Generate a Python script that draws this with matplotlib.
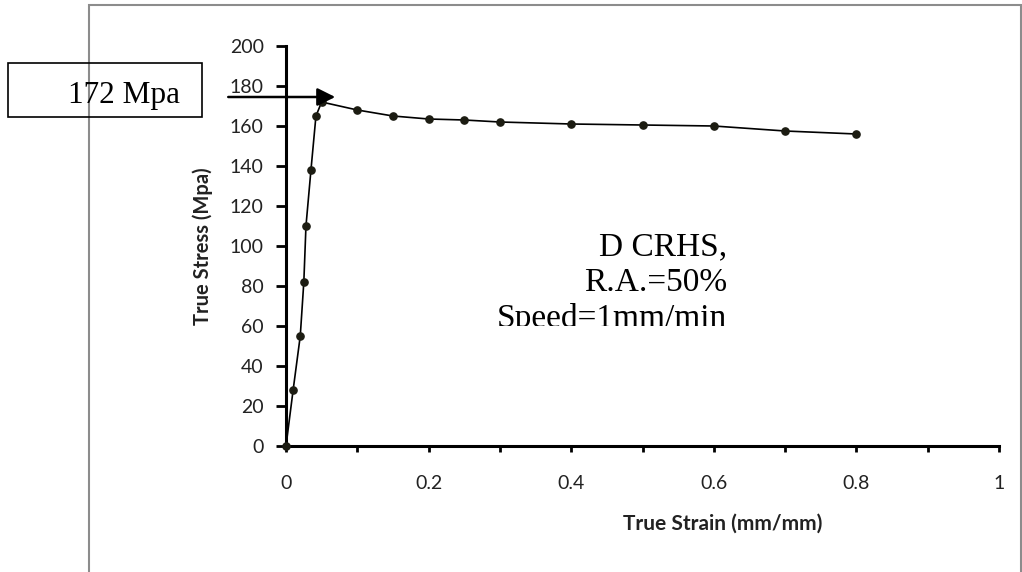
"""
True stress - true strain curve, D CRHS
"""
import numpy as np
import matplotlib
matplotlib.use("Agg")
import matplotlib.pyplot as plt
from matplotlib.patches import Rectangle
from matplotlib.transforms import Bbox, TransformedBbox

# data
strain = [0, 0.01, 0.02, 0.025, 0.028, 0.035, 0.042, 0.05, 0.1, 0.15, 0.2,
          0.25, 0.3, 0.4, 0.5, 0.6, 0.7, 0.8]
stress = [0, 28, 55, 82, 110, 138, 165, 172, 168, 165, 163.5,
          163, 162, 161, 160.5, 160, 157.5, 156]
x_ticks = [0, 0.1, 0.2, 0.3, 0.4, 0.5, 0.6, 0.7, 0.8, 0.9, 1.0]
x_labels = ["0", "", "0.2", "", "0.4", "", "0.6", "", "0.8", "", "1"]
y_ticks = [0, 20, 40, 60, 80, 100, 120, 140, 160, 180, 200]
peak_label = "172 Mpa"
peak_level = 174.5
note_lines = ["D CRHS,", "R.A.=50%", "Speed=1mm/min"]

W, H = 1022, 572
fig = plt.figure(figsize=(W / 100, H / 100), dpi=100)

def fx(px):
    return px / W

def fy(py):
    return 1 - py / H

# outer gray chart frame
fig.add_artist(Rectangle((fx(89), fy(620)), fx(1021) - fx(89), fy(5) - fy(620),
                         transform=fig.transFigure, fill=False,
                         edgecolor="#8c8c8c", lw=1.5))

ax = fig.add_axes([fx(286), fy(446), fx(999) - fx(286), fy(46) - fy(446)])
ax.plot(strain, stress, color="black", lw=1.2, marker="o", markersize=5.2,
        markerfacecolor="#1c1c12", markeredgecolor="#1c1c12", clip_on=False,
        zorder=3)

ax.set_xlim(0, 1)
ax.set_ylim(0, 200)
ax.spines["top"].set_visible(False)
ax.spines["right"].set_visible(False)
ax.spines["left"].set_linewidth(2.2)
ax.spines["bottom"].set_linewidth(2.2)
ax.set_xticks(x_ticks)
ax.set_xticklabels(x_labels)
ax.set_yticks(y_ticks)
for t in ax.get_xticklabels() + ax.get_yticklabels():
    t.set_fontfamily("Lato")
    t.set_fontsize(14)
    t.set_color("#222222")
ax.tick_params(axis="x", direction="out", length=4, width=2, pad=17)
ax.tick_params(axis="y", direction="out", length=7, width=2, pad=9)

ax.set_ylabel("True Stress (Mpa)", family="Lato", size=14.5, weight="bold",
              color="#222222", labelpad=12)
fig.text(fx(723), fy(524), "True Strain (mm/mm)", family="Lato", size=15,
         weight="bold", color="#222222", ha="center", va="center")

# arrow marking the peak stress
ax.annotate("", xy=(0.069, peak_level), xytext=(-0.081, peak_level),
            arrowprops=dict(arrowstyle="-|>,head_length=0.6,head_width=0.3",
                            mutation_scale=18, color="black", lw=1.8,
                            shrinkA=0, shrinkB=0),
            annotation_clip=False)

# label box
fig.add_artist(Rectangle((fx(8), fy(117)), fx(202) - fx(8), fy(63) - fy(117),
                         transform=fig.transFigure, fill=False,
                         edgecolor="black", lw=1.2))
fig.text(fx(180), fy(95), peak_label, family="Liberation Serif", size=22.5,
         ha="right", va="center")

# note text, bottom of last line cut off like the text box in the source
clip = TransformedBbox(Bbox([[0, fy(326)], [1, 1]]), fig.transFigure)
for i, line in enumerate(note_lines):
    t = fig.text(fx(727), fy(247 + 36 * i), line, family="Liberation Serif",
                 size=24, ha="right", va="center")
    t.set_clip_box(clip)
    t.set_clip_on(True)

fig.savefig("out.png", dpi=100)
